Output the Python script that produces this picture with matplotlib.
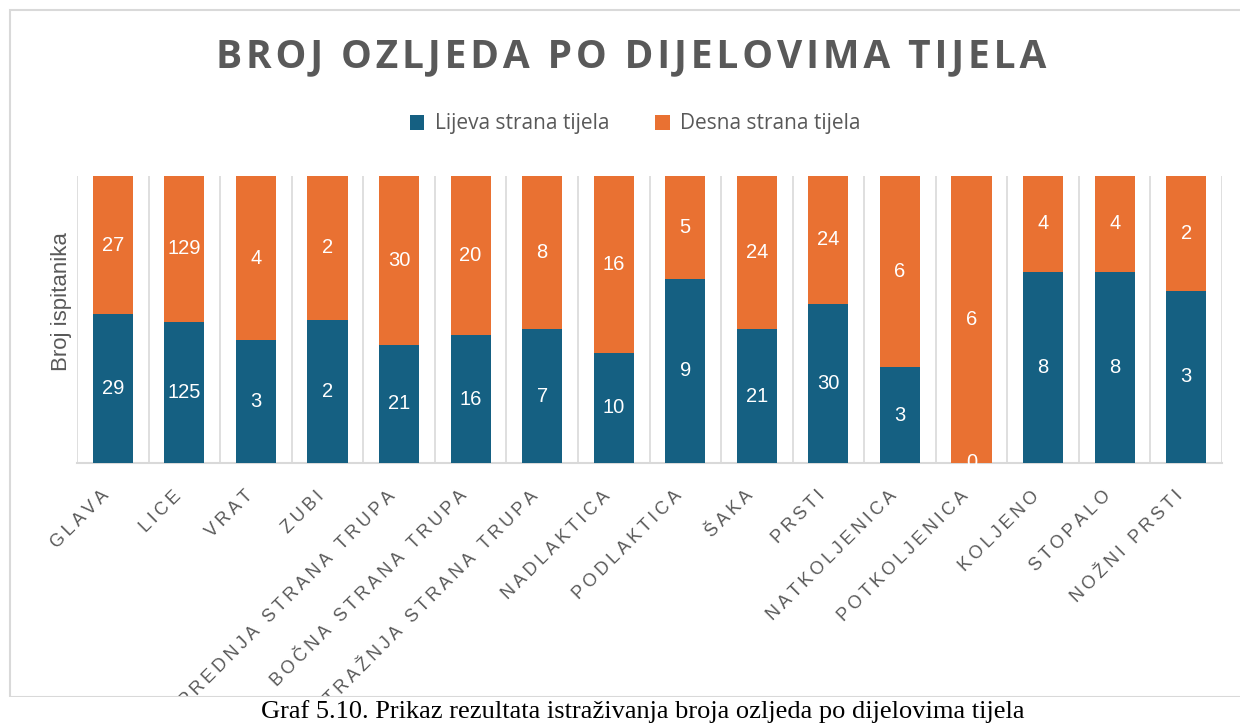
import matplotlib.pyplot as plt
import matplotlib.patches as patches
import matplotlib.transforms as mtransforms
import numpy as np

# data
categories = ['GLAVA', 'LICE', 'VRAT', 'ZUBI', 'PREDNJA STRANA TRUPA', 'BOČNA STRANA TRUPA',
              'STRAŽNJA STRANA TRUPA', 'NADLAKTICA', 'PODLAKTICA', 'ŠAKA', 'PRSTI',
              'NATKOLJENICA', 'POTKOLJENICA', 'KOLJENO', 'STOPALO', 'NOŽNI PRSTI']
lijeva = [29, 125, 3, 2, 21, 16, 7, 10, 9, 21, 30, 3, 0, 8, 8, 3]
desna = [27, 129, 4, 2, 30, 20, 8, 16, 5, 24, 24, 6, 6, 4, 4, 2]
series_names = ['Lijeva strana tijela', 'Desna strana tijela']

BLUE = '#156082'
ORANGE = '#E97132'
GRAY = '#595959'
GRID = '#D9D9D9'
FONT = ['Open Sans', 'DejaVu Sans']
ARIAL = ['Liberation Sans', 'DejaVu Sans']


def spaced(s, sep='\u200a'):
    return sep.join(list(s))


fig = plt.figure(figsize=(12.4, 7.27), dpi=100)
ax = fig.add_axes([77 / 1240, 1 - 463 / 727, (1222 - 77) / 1240, (463 - 176) / 727])

left = np.array(lijeva, dtype=float)
right = np.array(desna, dtype=float)
tot = left + right
lp = left / tot
rp = right / tot
x = np.arange(len(categories))
w = 0.56

ax.bar(x, lp, w, color=BLUE, label=series_names[0], zorder=3)
ax.bar(x, rp, w, bottom=lp, color=ORANGE, label=series_names[1], zorder=3)

for i in range(len(categories)):
    ax.text(x[i], lp[i] / 2, str(lijeva[i]), ha='center', va='center', color='white',
            fontsize=14.5, family=ARIAL, zorder=4)
    ax.text(x[i], lp[i] + rp[i] / 2, str(desna[i]), ha='center', va='center', color='white',
            fontsize=14.5, family=ARIAL, zorder=4)

ax.set_xlim(-0.5, len(categories) - 0.5)
ax.set_ylim(0, 1)
for b in np.arange(-0.5, len(categories), 1.0):
    ax.axvline(b, color=GRID, lw=1.2, zorder=1)
for s in ['top', 'right', 'left']:
    ax.spines[s].set_visible(False)
ax.spines['bottom'].set_color(GRID)
ax.spines['bottom'].set_linewidth(1.5)
ax.set_yticks([])
ax.set_xticks(x)
ax.set_xticklabels([spaced(c, '\u2009') for c in categories], rotation=45, ha='right',
                   va='center', rotation_mode='anchor', fontsize=13, color=GRAY, family=ARIAL)
ax.tick_params(axis='x', length=0, pad=22)
shift = mtransforms.ScaledTranslation(-6 / 100, 0, fig.dpi_scale_trans)
for lab in ax.get_xticklabels():
    lab.set_transform(lab.get_transform() + shift)

fig.text(61 / 1240, 1 - 302 / 727, 'Broj ispitanika', rotation=90, ha='center', va='center',
         fontsize=16, color=GRAY, family=ARIAL)

fig.text(631 / 1240, 1 - 57 / 727, spaced('BROJ OZLJEDA PO DIJELOVIMA TIJELA'),
         ha='center', va='center', fontsize=28, fontweight='bold', color=GRAY, family=FONT)

fig.legend(loc='center', bbox_to_anchor=(635 / 1240, 1 - 124 / 727), ncol=2, frameon=False,
           prop={'family': FONT, 'size': 15}, labelcolor=GRAY, handlelength=0.7,
           handleheight=0.7, columnspacing=2.2, handletextpad=0.5)

frame = patches.Rectangle((10 / 1240, 1 - 697 / 727), 1.1, (697 - 10) / 727,
                          transform=fig.transFigure, fill=False, edgecolor=GRID, lw=1.5,
                          clip_on=False)
fig.patches.append(frame)
fig.patches.append(patches.Rectangle((0, 0), 1, 1 - 697 / 727, transform=fig.transFigure,
                                     facecolor='white', edgecolor='none', zorder=5))

fig.text(643 / 1240, 1 - 712 / 727,
         'Graf 5.10. Prikaz rezultata istraživanja broja ozljeda po dijelovima tijela',
         ha='center', va='center', fontsize=19, family='Liberation Serif', color='black', zorder=6)

fig.savefig('out.png', dpi=100)
